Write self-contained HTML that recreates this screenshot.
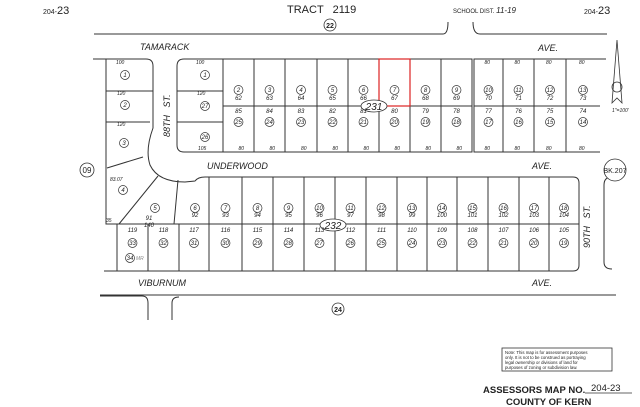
<!DOCTYPE html>
<html><head><meta charset="utf-8"><style>
html,body{margin:0;padding:0;background:#fff;}
svg{display:block;}
text{font-family:"Liberation Sans",sans-serif;fill:#222;}
.s{font-size:5px;font-style:italic;}
.n{font-size:6.5px;font-style:italic;}
.c{font-size:6px;font-style:italic;text-anchor:middle;}
.st{font-size:9px;font-style:italic;}
</style></head><body>
<svg width="640" height="407" viewBox="0 0 640 407" xmlns="http://www.w3.org/2000/svg">
<g stroke="#333" stroke-width="1" fill="none">
<path d="M94,34 L443,34 Q448,34 448,22"/>
<path d="M473,22 Q473,34 480,34 L607,34"/>
<path d="M93,59 L146,59 Q153,59 153,66 L153,128 Q145,150 150,165 Q158,182 185,182 L195,181 Q198,177 205,177 L573,177 Q579,177 579,183 L579,265 Q579,271 573,271 L104,271"/>
<path d="M106,59 L106,224 L118,224"/>
<path d="M106,91 L153,91 M106,122 L150,122"/>
<path d="M107,168 L143,157"/>
<path d="M119,224 L158,176"/>
<path d="M174,224 L178,180"/>
<path d="M209,177 L209,224"/>
<path d="M118,224 L579,224"/>
<path d="M117,224 L117,271"/>
<path d="M148,224V271 M179,224V271 M242,177V271 M273,177V271 M304,177V271 M335,177V271 M366,177V271 M397,177V271 M427,177V271 M457,177V271 M488,177V271 M519,177V271 M549,177V271 M209,224V271"/>
<path d="M184,59 L472,59 L472,152 L184,152 Q177,152 177,145 L177,66 Q177,59 184,59 Z"/>
<path d="M177,91 L223,91 M177,122 L223,122 M223,106 L472,106"/>
<path d="M223,59V152 M254,59V152 M285,59V152 M317,59V152 M348,59V152 M379,59V152 M410,59V152 M441,59V152"/>
<path d="M606,59 L474,59 L474,152 L600,152"/>
<path d="M474,106 L600,106 M503,59V152 M534,59V152 M566,59V152"/>
<path d="M612,177 Q604,177 604,185 L604,262 Q604,269 612,269"/>
<path d="M100,295 L616,295"/>
<path d="M100,296 L142,296 Q148,296 148,303 L148,320"/>
<path d="M172,320 L172,303 Q172,297 179,297"/>
</g>
<rect x="379" y="59" width="31" height="47" fill="none" stroke="#d22" stroke-width="1.2"/>
<g stroke="#333" stroke-width="0.8" fill="none">
<path d="M617,40 L612,103 L617,98 L622,103 Z"/>
<circle cx="617" cy="87" r="5"/>
</g>
<text x="612" y="112" class="s">1"=100'</text>
<text x="43" y="14" style="font-size:7px">204-<tspan style="font-size:11px">23</tspan></text>
<text x="287" y="13" style="font-size:11px">TRACT &#160; 2119</text>
<text x="453" y="13" style="font-size:6px">SCHOOL DIST. <tspan style="font-size:8px;font-style:italic">11-19</tspan></text>
<text x="584" y="14" style="font-size:7px">204-<tspan style="font-size:11px">23</tspan></text>
<g stroke="#333" fill="#fff" stroke-width="0.8">
<circle cx="330" cy="25" r="6"/><circle cx="338" cy="309" r="6"/><circle cx="87" cy="170" r="7"/><circle cx="615" cy="170" r="11"/>
<ellipse cx="374" cy="106" rx="13" ry="6"/><ellipse cx="333" cy="225" rx="13" ry="6"/>
</g>
<text x="330" y="28" class="c" style="font-size:7px;font-style:normal;font-weight:bold">22</text>
<text x="338" y="312" class="c" style="font-size:7px;font-style:normal;font-weight:bold">24</text>
<text x="87" y="173" class="c" style="font-size:8px;font-style:normal">09</text>
<text x="615" y="173" class="c" style="font-size:7px;font-style:normal">BK.207</text>
<text x="374" y="110" class="c" style="font-size:10px">231</text>
<text x="333" y="229" class="c" style="font-size:10px">232</text>
<text x="140" y="50" class="st">TAMARACK</text>
<text x="538" y="51" class="st">AVE.</text>
<text x="207" y="169" class="st">UNDERWOOD</text>
<text x="532" y="169" class="st">AVE.</text>
<text x="138" y="286" class="st">VIBURNUM</text>
<text x="532" y="286" class="st">AVE.</text>
<text transform="translate(170,137) rotate(-90)" class="st">88TH &#160; ST.</text>
<text transform="translate(590,248) rotate(-90)" class="st">90TH &#160; ST.</text>
<g stroke="#333" fill="none" stroke-width="0.7">
<circle cx="125" cy="75" r="4.5"/><circle cx="125" cy="105" r="4.5"/><circle cx="124" cy="143" r="4.5"/>
<circle cx="205" cy="75" r="4.5"/><circle cx="205" cy="106" r="4.5"/><circle cx="205" cy="137" r="4.5"/>
<circle cx="123" cy="190" r="4.5"/><circle cx="155" cy="208" r="4.5"/><circle cx="195" cy="208" r="4.5"/>
<circle cx="130" cy="258" r="4.5"/>
</g>
<text x="125" y="77" class="c">1</text><text x="125" y="107" class="c">2</text><text x="124" y="145" class="c">3</text>
<text x="205" y="77" class="c">1</text><text x="205" y="108" class="c">27</text><text x="205" y="139" class="c">26</text>
<text x="123" y="192" class="c">4</text><text x="155" y="210" class="c">5</text><text x="195" y="210" class="c">6</text>
<text x="149" y="220" class="c">91</text><text x="149" y="227" class="c">140</text><text x="195" y="217" class="c">92</text>
<text x="130" y="260" class="c">34</text><text x="136" y="260" class="s" style="fill:#888">MR</text>
<text x="116" y="64" class="s">100</text><text x="196" y="64" class="s">100</text><text x="117" y="95" class="s">120</text><text x="197" y="95" class="s">120</text><text x="117" y="126" class="s">120</text><text x="198" y="150" class="s">105</text>
<text x="110" y="181" class="s">83.07</text><text x="106" y="222" class="s">35</text>
<g id="lots"></g>
<rect x="502" y="348" width="110" height="23" fill="none" stroke="#333" stroke-width="0.8"/>
<text x="505" y="354" style="font-size:4.3px">Note: This map is for assessment purposes</text>
<text x="505" y="359" style="font-size:4.3px">only. It is not to be construed as portraying</text>
<text x="505" y="364" style="font-size:4.3px">legal ownership or divisions of land for</text>
<text x="505" y="369" style="font-size:4.3px">purposes of zoning or subdivision law.</text>
<text x="483" y="393" style="font-size:9.5px;font-weight:bold">ASSESSORS MAP NO.</text>
<text x="591" y="391" style="font-size:9.5px">204-23</text>
<line x1="585" y1="393" x2="632" y2="393" stroke="#333" stroke-width="0.7"/>
<text x="506" y="405" style="font-size:9.5px;font-weight:bold">COUNTY OF KERN</text>
<script>
(function(){
var g=document.getElementById('lots'),ns='http://www.w3.org/2000/svg';
function t(x,y,s,cls){var e=document.createElementNS(ns,'text');e.setAttribute('x',x);e.setAttribute('y',y);e.setAttribute('class',cls||'c');e.textContent=s;g.appendChild(e);}
function c(x,y,s){var e=document.createElementNS(ns,'circle');e.setAttribute('cx',x);e.setAttribute('cy',y);e.setAttribute('r',4.5);e.setAttribute('fill','none');e.setAttribute('stroke','#333');e.setAttribute('stroke-width','0.7');g.appendChild(e);t(x,y+2,s);}
var tc=[223,254,285,317,348,379,410,441,472];
for(var i=0;i<8;i++){var x=(tc[i]+tc[i+1])/2;c(x,90,2+i);t(x,100,62+i);t(x,113,85-i);c(x,122,25-i);t(x,150,'80','s');}
var rt=[474,503,534,566,600];
for(var i=0;i<4;i++){var x=(rt[i]+rt[i+1])/2;c(x,90,10+i);t(x,100,70+i);t(x,113,77-i);c(x,122,17-i);t(x-4,64,'80','s');t(x-4,150,'80','s');}
var lc=[209,242,273,304,335,366,397,427,457,488,519,549,579];
for(var i=0;i<12;i++){var x=(lc[i]+lc[i+1])/2;c(x,208,7+i);t(x,217,93+i);}
var lr=[117,148,179,209,242,273,304,335,366,397,427,457,488,519,549,579];
for(var i=0;i<15;i++){var x=(lr[i]+lr[i+1])/2;t(x,232,119-i);c(x,243,33-i);}
})();
</script>
</svg>
</body></html>
